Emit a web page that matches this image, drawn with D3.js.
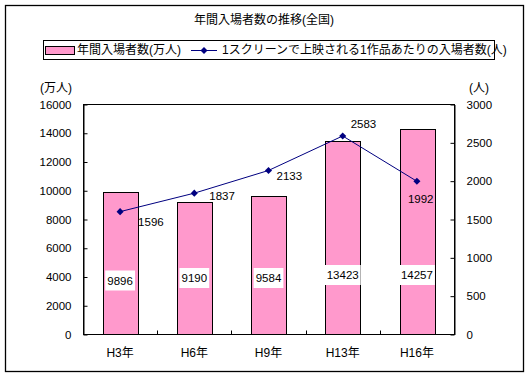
<!DOCTYPE html>
<html><head><meta charset="utf-8">
<script src="https://cdn.jsdelivr.net/npm/d3@7"></script>
<style>
html,body{margin:0;padding:0;background:#fff;}
text{font-family:"Liberation Sans","Noto Sans CJK JP",sans-serif;fill:#000;}
</style></head>
<body><svg id="c" width="529" height="376"></svg>
<script>
const title = "年間入場者数の推移(全国)";
const categories = ["H3年","H6年","H9年","H13年","H16年"];
const attendance = [9896, 9190, 9584, 13423, 14257];      // 万人
const perScreen = [1596, 1837, 2133, 2583, 1992];          // 人
const leftTicks = [0,2000,4000,6000,8000,10000,12000,14000,16000];
const rightTicks = [0,500,1000,1500,2000,2500,3000];
const seriesNames = ["年間入場者数(万人)","1スクリーンで上映される1作品あたりの入場者数(人)"];
const leftUnit = "(万人)", rightUnit = "(人)";

// label offsets (style)
const lineLabelOffsets = [[18,10],[15,3],[8,6],[8,-12],[-9,18]];
const barLabelYOffsets = [4,1.5,1.5,-1.5,-1.5];

const NUMFONT = 11.5;
const svg = d3.select("#c");
const m = {l:83, r:454, t:104, b:334};

svg.append("rect").attr("x",5.5).attr("y",5.5).attr("width",518).attr("height",366)
  .attr("fill","#fff").attr("stroke","#000").attr("stroke-width",1.3);

svg.append("text").attr("x",264).attr("y",24).attr("text-anchor","middle")
  .attr("font-size",12).text(title);

const x = d3.scaleBand().domain(categories).range([m.l,m.r]).paddingInner(0.535).paddingOuter(0.2675);
const yL = d3.scaleLinear().domain([0,16000]).range([m.b,m.t]);
const yR = d3.scaleLinear().domain([0,3000]).range([m.b,m.t]);

// plot frame
svg.append("rect").attr("x",m.l+0.5).attr("y",m.t+0.5).attr("width",m.r-m.l).attr("height",m.b-m.t)
  .attr("fill","#fff").attr("stroke","#000");

// bars
svg.append("g").selectAll("rect").data(attendance).join("rect")
  .attr("x",(d,i)=>Math.round(x(categories[i]))+0.5)
  .attr("y",d=>Math.round(yL(d))+0.5)
  .attr("width",Math.round(x.bandwidth()))
  .attr("height",d=>m.b-Math.round(yL(d)))
  .attr("fill","#FF99CC").attr("stroke","#000");

// axes
const axL = d3.axisLeft(yL).tickValues(leftTicks).tickFormat(d3.format("d")).tickSizeInner(-4).tickSizeOuter(0).tickPadding(12);
const gL = svg.append("g").attr("transform",`translate(${m.l+0.5},0.5)`).call(axL);
const axR = d3.axisRight(yR).tickValues(rightTicks).tickFormat(d3.format("d")).tickSizeInner(-4).tickSizeOuter(0).tickPadding(12);
const gR = svg.append("g").attr("transform",`translate(${m.r+0.5},0.5)`).call(axR);
[gL,gR].forEach(g=>{
  g.select(".domain").attr("stroke","#000");
  g.selectAll(".tick line").attr("stroke","#000");
  g.selectAll(".tick text").attr("font-size",NUMFONT).attr("fill","#000")
   .attr("font-family",'"Liberation Sans",sans-serif');
});

// x axis
const gX = svg.append("g").attr("transform",`translate(0,${m.b+0.5})`);
gX.append("line").attr("x1",m.l).attr("x2",m.r+1).attr("stroke","#000");
const step = x.step();
gX.selectAll(".sep").data(categories.slice(1)).join("line")
  .attr("x1",(d)=>Math.round(x(d)-step*x.paddingInner()/2)+0.5)
  .attr("x2",(d)=>Math.round(x(d)-step*x.paddingInner()/2)+0.5)
  .attr("y1",0).attr("y2",-4).attr("stroke","#000");
gX.selectAll("text").data(categories).join("text")
  .attr("x",d=>x(d)+x.bandwidth()/2).attr("y",22).attr("text-anchor","middle")
  .attr("font-size",12).text(d=>d);

// bar labels
const bl = svg.append("g").selectAll("g").data(attendance).join("g")
  .attr("transform",(d,i)=>`translate(${x(categories[i])+x.bandwidth()/2},${yL(4000)+barLabelYOffsets[i]})`);
bl.append("rect").attr("x",d=>-(String(d).length*6.2+5)/2).attr("y",-10)
  .attr("width",d=>String(d).length*6.2+5).attr("height",20).attr("fill","#fff");
bl.append("text").attr("text-anchor","middle").attr("dy","0.35em").attr("font-size",NUMFONT).text(d=>d);

// line
const cx = i => x(categories[i])+x.bandwidth()/2;
const line = d3.line().x((d,i)=>cx(i)).y(d=>yR(d));
svg.append("path").datum(perScreen).attr("d",line).attr("fill","none").attr("stroke","#000080").attr("stroke-width",1);
svg.append("g").selectAll("path").data(perScreen).join("path")
  .attr("d",d3.symbol(d3.symbolDiamond2,32)())
  .attr("transform",(d,i)=>`translate(${cx(i)},${yR(d)})`).attr("fill","#000080");
svg.append("g").selectAll("text").data(perScreen).join("text")
  .attr("x",(d,i)=>cx(i)+lineLabelOffsets[i][0]).attr("y",(d,i)=>yR(d)+lineLabelOffsets[i][1])
  .attr("dy","0.35em").attr("font-size",NUMFONT).text(d=>d);

// units
svg.append("text").attr("x",40).attr("y",92).attr("font-size",12).text(leftUnit);
svg.append("text").attr("x",469).attr("y",92).attr("font-size",12).text(rightUnit);

// legend
const lg = svg.append("g");
lg.append("rect").attr("x",43.5).attr("y",40.5).attr("width",451).attr("height",19)
  .attr("fill","#fff").attr("stroke","#000");
lg.append("rect").attr("x",45.5).attr("y",46.5).attr("width",29).attr("height",8)
  .attr("fill","#FF99CC").attr("stroke","#000");
lg.append("text").attr("x",77).attr("y",50).attr("dy","0.35em").attr("font-size",12).text(seriesNames[0]);
lg.append("line").attr("x1",191).attr("x2",217).attr("y1",50.5).attr("y2",50.5).attr("stroke","#000080");
lg.append("path").attr("d",d3.symbol(d3.symbolDiamond2,32)()).attr("transform","translate(204,50.5)").attr("fill","#000080");
lg.append("text").attr("x",222).attr("y",50).attr("dy","0.35em").attr("font-size",12).text(seriesNames[1]);
</script></body></html>
